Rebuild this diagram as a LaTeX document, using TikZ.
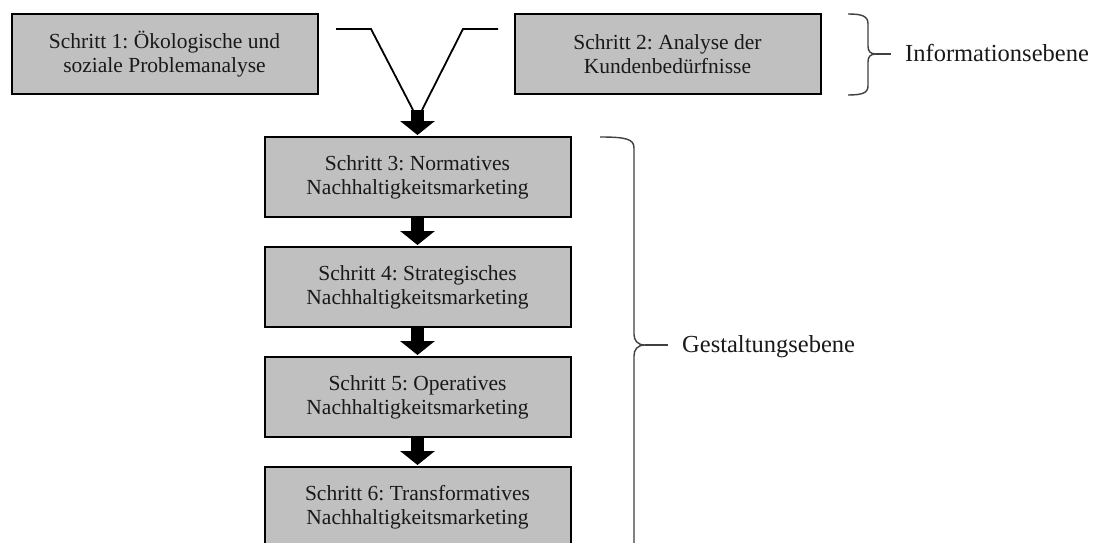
\documentclass[tikz,border=0pt]{standalone}
\usepackage{fontspec}
\setmainfont{Liberation Serif}
\usetikzlibrary{arrows.meta}
\frenchspacing
\definecolor{boxgray}{RGB}{192,192,192}
\tikzset{
  stepbox/.style={draw=black, line width=2pt, fill=boxgray, minimum width=306pt, minimum height=80pt,
    align=center, inner sep=0pt, outer sep=0pt, font=\fontsize{21.5}{24}\selectfont, text=black!90},
  blockarrow/.style={line width=13pt, -{Triangle[width=34pt,length=14pt]}, shorten >=2pt},
  vline/.style={line width=1.8pt, black},
  brace/.style={line width=1.4pt, black!75},
  level/.style={anchor=base west, inner sep=0pt, font=\fontsize{24.5}{28}\selectfont, text=black!90}
}
\begin{document}
\begin{tikzpicture}[x=1pt, y=-1pt]
\clip (0,0) rectangle (1103,543);
\fill[white] (0,0) rectangle (1103,543);

\node[stepbox] (s1) at (164.5,54) {Schritt 1: Ökologische und\\soziale Problemanalyse};
\node[stepbox] (s2) at (667.5,54) {Schritt 2: Analyse der\\Kundenbedürfnisse};
\node[stepbox] (s3) at (417.5,177) {Schritt 3: Normatives\\Nachhaltigkeitsmarketing};
\node[stepbox] (s4) at (417.5,287) {Schritt 4: Strategisches\\Nachhaltigkeitsmarketing};
\node[stepbox] (s5) at (417.5,397) {Schritt 5: Operatives\\Nachhaltigkeitsmarketing};
\node[stepbox] (s6) at (417.5,507) {Schritt 6: Transformatives\\Nachhaltigkeitsmarketing};

% merging connector
\coordinate (la) at (336,29);
\coordinate (lb) at (371,29);
\coordinate (lc) at (413,110);
\coordinate (ra) at (498,29);
\coordinate (rb) at (463,29);
\coordinate (rc) at (422,110);
\coordinate (m) at (417.5,110);
\draw[vline, line join=miter] (la) -- (lb) -- (lc);
\draw[vline, line join=miter] (ra) -- (rb) -- (rc);
\draw[blockarrow] (m) -- (s3.north);
\draw[blockarrow] (s3.south) -- (s4.north);
\draw[blockarrow] (s4.south) -- (s5.north);
\draw[blockarrow] (s5.south) -- (s6.north);

% braces
\draw[brace] (848,14) .. controls (862,14) and (868,16) .. (868,24) -- (868,46)
  .. controls (868,51) and (870,54) .. (876,54) .. controls (870,54) and (868,57) .. (868,62)
  -- (868,86) .. controls (868,93) and (862,95) .. (848,95);
\coordinate (b1tip) at (876,54);
\coordinate (b1end) at (891,54);
\draw[brace] (b1tip) -- (b1end);
\node[level] (l1) at (905,62) {Informationsebene};

\draw[brace] (600,137) .. controls (626,137) and (634,139) .. (634,148) -- (634,334)
  .. controls (634,340) and (637,345) .. (645,345) .. controls (637,345) and (634,350) .. (634,356)
  -- (634,560);
\coordinate (b2tip) at (645,345);
\coordinate (b2end) at (668,345);
\draw[brace] (b2tip) -- (b2end);
\node[level] (l2) at (682,352) {Gestaltungsebene};
\end{tikzpicture}
\end{document}
